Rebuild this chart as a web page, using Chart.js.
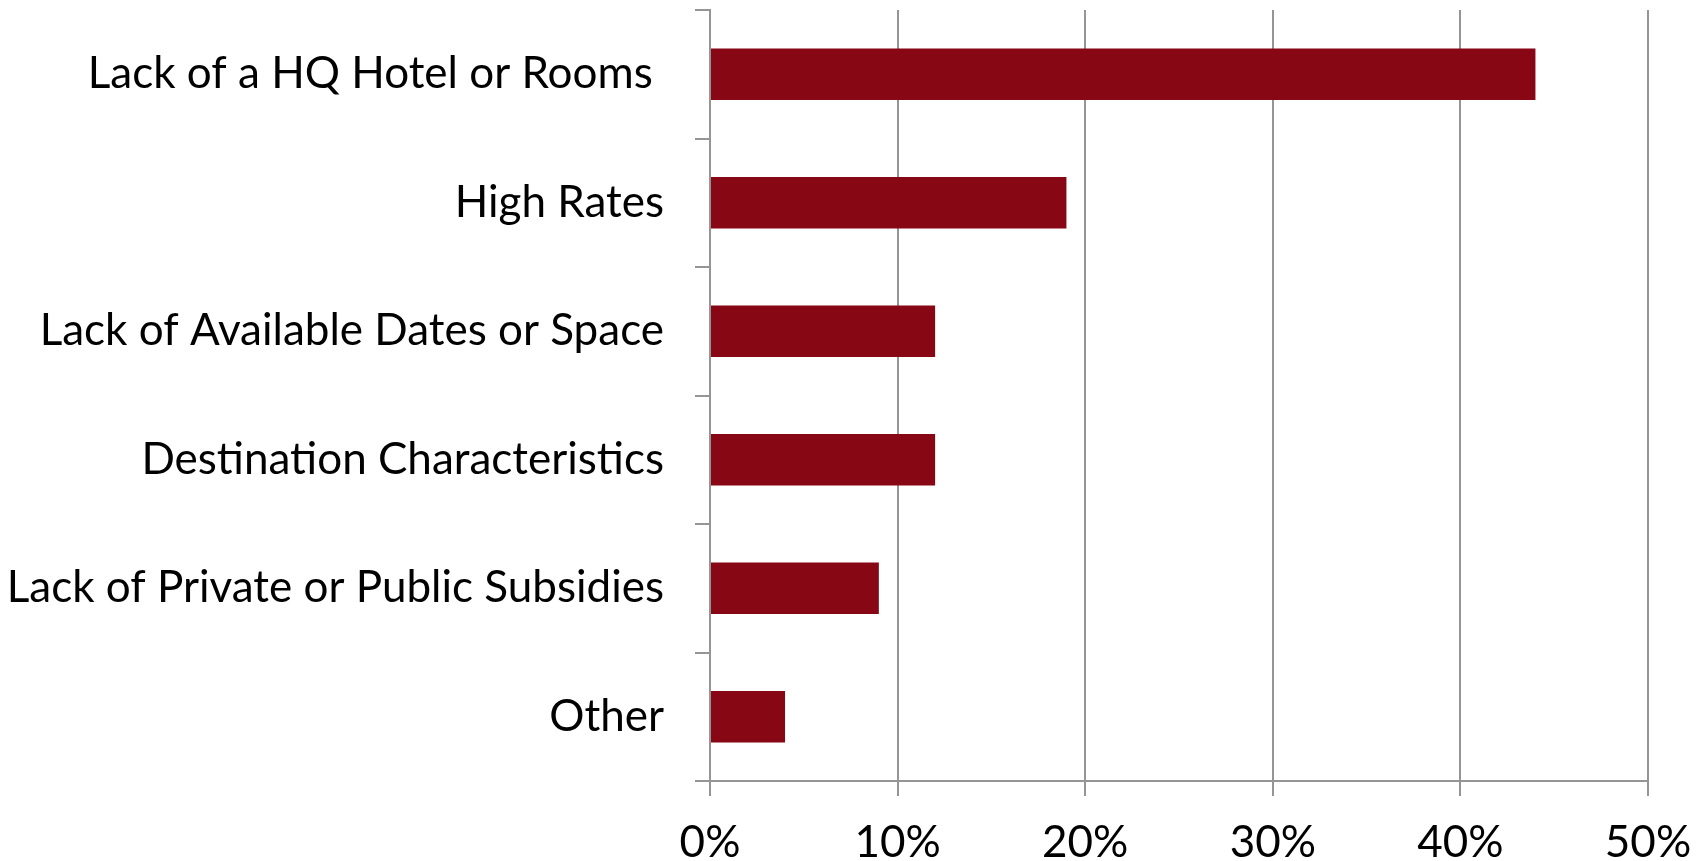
<!DOCTYPE html>
<html>
<head>
<meta charset="utf-8">
<script src="https://cdn.jsdelivr.net/npm/chart.js@4/dist/chart.umd.min.js"></script>
<style>
  html, body { margin: 0; padding: 0; background: #ffffff; }
  #wrap { width: 1705px; height: 861px; position: relative; }
</style>
</head>
<body>
<div id="wrap"><canvas id="chart" width="1705" height="861"></canvas></div>
<script>
// Reasons cited, top to bottom
const categories = [
  'Lack of a HQ Hotel or Rooms ',
  'High Rates',
  'Lack of Available Dates or Space',
  'Destination Characteristics',
  'Lack of Private or Public Subsidies',
  'Other'
];
// Share of respondents, percent
const shares = [44, 19, 12, 12, 9, 4];
// Percent axis ticks
const axisTicks = [0, 10, 20, 30, 40, 50];

const FONT = 'Lato, "Noto Sans", sans-serif';
const GRID = '#959595';

new Chart(document.getElementById('chart'), {
  type: 'bar',
  data: {
    labels: categories,
    datasets: [{
      data: shares,
      backgroundColor: '#870714',
      borderWidth: 0,
      categoryPercentage: 1.0,
      barPercentage: 0.4
    }]
  },
  options: {
    indexAxis: 'y',
    responsive: false,
    animation: false,
    layout: { padding: { top: 10, right: 57, left: 0, bottom: 0 } },
    plugins: { legend: { display: false }, tooltip: { enabled: false } },
    scales: {
      x: {
        min: axisTicks[0],
        max: axisTicks[axisTicks.length - 1],
        afterBuildTicks: (scale) => { scale.ticks = axisTicks.map(v => ({ value: v })); },
        afterFit: (scale) => {
          scale.height = 80;
          scale.paddingLeft = 0;
          scale.paddingRight = 0;
        },
        grid: {
          display: true,
          drawOnChartArea: true,
          drawTicks: true,
          tickLength: 15,
          color: GRID,
          lineWidth: 2
        },
        border: { display: true, color: GRID, width: 2 },
        ticks: {
          callback: (v) => v + '%',
          color: '#000000',
          padding: 20,
          maxRotation: 0,
          font: { family: FONT, size: 44 }
        }
      },
      y: {
        afterFit: (scale) => {
          scale.width = 710;
          scale.paddingTop = 0;
          scale.paddingBottom = 0;
        },
        grid: {
          display: true,
          offset: true,
          drawOnChartArea: false,
          drawTicks: true,
          tickLength: 15,
          color: GRID,
          lineWidth: 2
        },
        border: { display: true, color: GRID, width: 2 },
        ticks: {
          color: '#000000',
          padding: 31,
          autoSkip: false,
          font: { family: FONT, size: 44 }
        }
      }
    }
  }
});
</script>
</body>
</html>
